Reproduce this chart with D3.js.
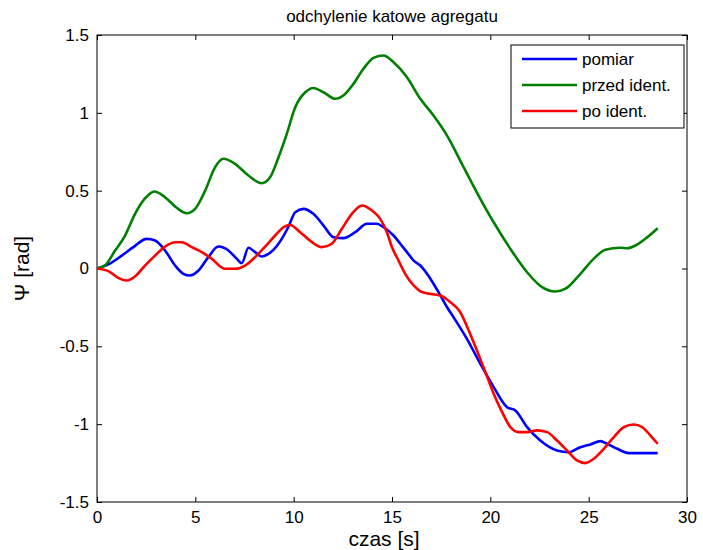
<!DOCTYPE html>
<html>
<head>
<meta charset="utf-8">
<script src="https://cdn.jsdelivr.net/npm/d3@7"></script>
<style>
  body { margin: 0; background: #fff; }
  svg { display: block; font-family: Arial, "Liberation Sans", sans-serif; }
  .tick text { font-size: 17px; }
</style>
</head>
<body>
<div id="chart"></div>
<script>
// time points and values
var tPomiar = [0, 0.58, 1.26, 1.85, 2.53, 2.95, 3.46, 3.97, 4.39, 4.73, 5.16, 5.66, 6.17, 6.68, 7.11, 7.36, 7.7, 8.04, 8.38, 8.72, 9.23, 9.74, 10.08, 10.5, 11.0, 11.52, 12.03, 12.53, 13.13, 13.73, 14.23, 14.57, 15.08, 15.42, 15.76, 16.1, 16.44, 16.78, 17.11, 17.46, 17.8, 18.13, 18.81, 19.49, 20.17, 20.85, 21.27, 21.87, 22.54, 23.39, 23.99, 24.58, 25.09, 25.6, 25.94, 26.45, 27.04, 28.14, 28.51];
var vPomiar = [0, 0.026, 0.083, 0.137, 0.19, 0.18, 0.116, 0.019, -0.034, -0.045, -0.013, 0.073, 0.141, 0.116, 0.062, 0.034, 0.133, 0.105, 0.077, 0.094, 0.159, 0.27, 0.362, 0.383, 0.351, 0.276, 0.201, 0.195, 0.233, 0.287, 0.287, 0.265, 0.212, 0.159, 0.105, 0.051, 0.019, -0.034, -0.098, -0.173, -0.249, -0.313, -0.452, -0.612, -0.762, -0.891, -0.912, -1.019, -1.105, -1.169, -1.18, -1.148, -1.13, -1.109, -1.126, -1.158, -1.186, -1.186, -1.186];

var tPrzed = [0, 0.41, 0.92, 1.42, 1.93, 2.44, 2.92, 3.46, 4.05, 4.56, 4.99, 5.5, 6.0, 6.43, 7.02, 7.7, 8.38, 8.8, 9.23, 9.65, 10.08, 10.59, 11.0, 11.52, 12.11, 12.53, 13.04, 13.55, 14.06, 14.57, 15.08, 15.76, 16.44, 17.11, 17.8, 18.64, 19.49, 20.17, 21.02, 21.87, 22.63, 23.31, 23.82, 24.58, 25.34, 25.85, 26.62, 26.96, 27.38, 27.97, 28.51];
var vPrzed = [0, 0.02, 0.115, 0.21, 0.35, 0.45, 0.495, 0.458, 0.39, 0.355, 0.383, 0.5, 0.65, 0.705, 0.672, 0.597, 0.548, 0.586, 0.715, 0.865, 1.036, 1.132, 1.16, 1.132, 1.09, 1.111, 1.186, 1.283, 1.353, 1.368, 1.325, 1.229, 1.09, 0.983, 0.854, 0.651, 0.448, 0.297, 0.126, -0.024, -0.12, -0.148, -0.13, -0.034, 0.073, 0.12, 0.133, 0.13, 0.148, 0.2, 0.259];

var tPo = [0, 0.58, 1.08, 1.51, 1.93, 2.44, 2.95, 3.46, 3.97, 4.31, 4.82, 5.33, 5.84, 6.51, 7.02, 7.53, 8.04, 8.55, 9.06, 9.48, 9.82, 10.33, 10.93, 11.43, 11.94, 12.45, 12.96, 13.47, 13.98, 14.4, 14.74, 15.0, 15.33, 15.67, 16.1, 16.44, 16.95, 17.46, 17.96, 18.47, 18.9, 19.32, 19.75, 20.17, 20.6, 21.02, 21.44, 21.87, 22.38, 22.89, 23.39, 23.9, 24.41, 24.83, 25.26, 25.77, 26.28, 26.79, 27.29, 27.72, 28.14, 28.51];
var vPo = [0, -0.017, -0.06, -0.077, -0.051, 0.019, 0.083, 0.141, 0.169, 0.169, 0.137, 0.105, 0.062, -0.002, -0.002, 0.019, 0.073, 0.141, 0.212, 0.265, 0.279, 0.233, 0.169, 0.137, 0.159, 0.255, 0.351, 0.405, 0.373, 0.319, 0.233, 0.137, 0.051, -0.034, -0.109, -0.146, -0.163, -0.173, -0.216, -0.281, -0.398, -0.527, -0.666, -0.805, -0.923, -1.019, -1.051, -1.051, -1.04, -1.051, -1.105, -1.169, -1.233, -1.25, -1.222, -1.158, -1.083, -1.019, -1.002, -1.019, -1.073, -1.126];

var seriesNames = ["pomiar", "przed ident.", "po ident."];
var seriesColors = ["#0000ff", "#008000", "#ff0000"];
var xTicks = [0, 5, 10, 15, 20, 25, 30];
var yTicks = [-1.5, -1, -0.5, 0, 0.5, 1, 1.5];

var margin = {top: 35, right: 16, bottom: 48, left: 97},
    width = 703 - margin.left - margin.right,
    height = 550 - margin.top - margin.bottom;

var x = d3.scaleLinear().domain([0, 30]).range([0, width]);
var y = d3.scaleLinear().domain([-1.5, 1.5]).range([height, 0]);

var svg = d3.select("#chart").append("svg")
    .attr("width", 703)
    .attr("height", 550)
  .append("g")
    .attr("transform", "translate(" + margin.left + "," + margin.top + ")");

function zip(ts, vs) {
  return ts.map(function(t, i) { return {t: t, v: vs[i]}; });
}
var series = [zip(tPomiar, vPomiar), zip(tPrzed, vPrzed), zip(tPo, vPo)];

var line = d3.line()
    .x(function(d) { return x(d.t); })
    .y(function(d) { return y(d.v); })
    .curve(d3.curveMonotoneX);

// box
svg.append("rect")
    .attr("width", width)
    .attr("height", height)
    .attr("fill", "none")
    .attr("stroke", "#000")
    .attr("stroke-width", 1);

// axes, ticks pointing inward like matlab
var fmt = function(d) { return String(d); };
svg.append("g")
    .attr("transform", "translate(0," + height + ")")
    .call(d3.axisBottom(x).tickValues(xTicks).tickSizeInner(-5).tickSizeOuter(0).tickPadding(9).tickFormat(fmt));
svg.append("g")
    .call(d3.axisTop(x).tickValues(xTicks).tickSizeInner(-5).tickSizeOuter(0).tickFormat(""));
svg.append("g")
    .call(d3.axisLeft(y).tickValues(yTicks).tickSizeInner(-5).tickSizeOuter(0).tickPadding(8).tickFormat(fmt));
svg.append("g")
    .attr("transform", "translate(" + width + ",0)")
    .call(d3.axisRight(y).tickValues(yTicks).tickSizeInner(-5).tickSizeOuter(0).tickFormat(""));

svg.selectAll(".domain").remove();
svg.selectAll(".tick line").attr("stroke", "#000");
svg.selectAll(".tick text").attr("fill", "#000");

svg.selectAll(".series")
    .data(series)
  .enter().append("path")
    .attr("class", "series")
    .attr("fill", "none")
    .attr("stroke", function(d, i) { return seriesColors[i]; })
    .attr("stroke-width", 2.6)
    .attr("stroke-linejoin", "round")
    .attr("d", line);

// titles
svg.append("text")
    .attr("x", width / 2)
    .attr("y", -13)
    .attr("text-anchor", "middle")
    .style("font-size", "17px")
    .text("odchylenie katowe agregatu");

svg.append("text")
    .attr("x", width / 2 - 8)
    .attr("y", height + 44)
    .attr("text-anchor", "middle")
    .style("font-size", "21px")
    .text("czas [s]");

svg.append("text")
    .attr("transform", "translate(-68," + (height / 2) + ") rotate(-90)")
    .attr("text-anchor", "middle")
    .style("font-size", "21px")
    .text("\u03A8 [rad]");

// legend
var lg = svg.append("g").attr("transform", "translate(414,10)");
lg.append("rect")
    .attr("width", 173)
    .attr("height", 83)
    .attr("fill", "#fff")
    .attr("stroke", "#000");
seriesNames.forEach(function(name, i) {
  var yy = 14 + i * 26;
  lg.append("line")
      .attr("x1", 11).attr("x2", 66)
      .attr("y1", yy).attr("y2", yy)
      .attr("stroke", seriesColors[i])
      .attr("stroke-width", 2.6);
  lg.append("text")
      .attr("x", 71)
      .attr("y", yy + 6)
      .style("font-size", "17px")
      .text(name);
});
</script>
</body>
</html>
